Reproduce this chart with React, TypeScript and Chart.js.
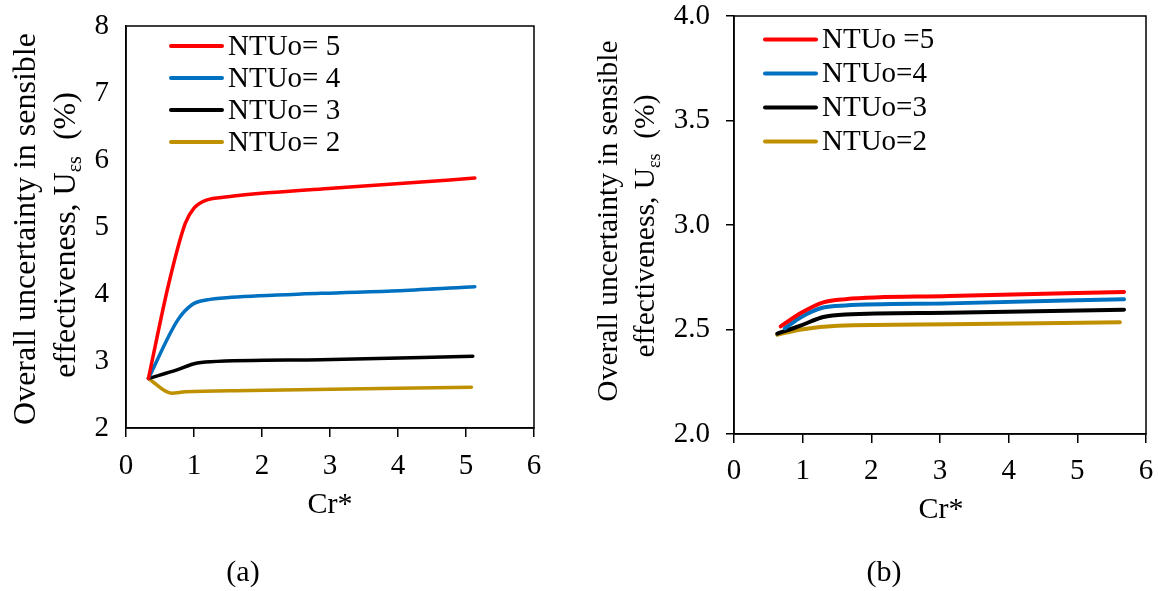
import React, { useEffect, useRef } from "react";
import { Chart, registerables } from "chart.js";

Chart.register(...registerables);

const FONT = "'Liberation Serif', 'Times New Roman', Times, serif";

// ---------- Panel (a) data ----------
const aLabels = ["NTUo= 5", "NTUo= 4", "NTUo= 3", "NTUo= 2"];
const aNtu5X = [0.33, 0.63, 0.87, 1.0, 1.18, 1.5, 2.08, 3.03, 4.03, 5.13];
const aNtu5Y = [2.74, 4.16, 5.05, 5.28, 5.4, 5.45, 5.51, 5.58, 5.65, 5.73];
const aNtu4X = [0.33, 0.76, 0.97, 1.18, 1.55, 2.87, 4.03, 5.13];
const aNtu4Y = [2.74, 3.61, 3.84, 3.91, 3.95, 4.01, 4.05, 4.11];
const aNtu3X = [0.33, 0.76, 1.0, 1.24, 2.87, 5.1];
const aNtu3Y = [2.74, 2.87, 2.96, 2.99, 3.02, 3.07];
const aNtu2X = [0.33, 0.67, 0.87, 1.82, 5.08];
const aNtu2Y = [2.74, 2.52, 2.54, 2.56, 2.61];
const aYTicks = [2, 3, 4, 5, 6, 7, 8];

// ---------- Panel (b) data ----------
const bLabels = ["NTUo =5", "NTUo=4", "NTUo=3", "NTUo=2"];
const bNtu5X = [0.68, 0.98, 1.3, 1.62, 3.13, 5.68];
const bNtu5Y = [2.515, 2.58, 2.63, 2.645, 2.66, 2.68];
const bNtu4X = [0.74, 0.98, 1.3, 1.62, 3.13, 5.68];
const bNtu4Y = [2.505, 2.56, 2.605, 2.615, 2.625, 2.645];
const bNtu3X = [0.63, 0.98, 1.3, 1.62, 3.13, 5.68];
const bNtu3Y = [2.48, 2.52, 2.56, 2.572, 2.58, 2.595];
const bNtu2X = [0.63, 0.98, 1.51, 3.13, 5.62];
const bNtu2Y = [2.475, 2.5, 2.518, 2.525, 2.535];
const bYTicks = [2.0, 2.5, 3.0, 3.5, 4.0];

const xTicks = [0, 1, 2, 3, 4, 5, 6];
const xTitle = "Cr*";
const yTitleLine1 = "Overall uncertainty in sensible";
const yTitleLine2Main = "effectiveness, U";
const yTitleLine2Sub = "εs";
const yTitleLine2End = "  (%)";

const COLORS = ["#FF0000", "#0070C0", "#000000", "#BF9000"];

function pairs(xs: number[], ys: number[]) {
  return xs.map((x, i) => ({ x, y: ys[i] }));
}

type PanelCfg = {
  labels: string[];
  series: { x: number[]; y: number[] }[];
  yMin: number;
  yMax: number;
  yTicks: number[];
  yDecimals: number;
  yTickMarks: boolean;
  yScaleWidth: number;
  xScaleHeight: number;
  padTop: number;
  padRight: number;
  tickFont: number;
  yTitleFont: number;
  yTitle1X: number;
  yTitle1Y: number;
  yTitle2X: number;
  yTitle2Y: number;
  xTitleX: number;
  xTitleY: number;
  legendLineX0: number;
  legendLineX1: number;
  legendTextX: number;
  legendY0: number;
  legendStep: number;
  legendFont: number;
  caption: string;
  captionX: number;
  captionY: number;
  xTickPad: number;
  yTickPad: number;
  lineWidth: number;
};

const decorPlugin = {
  id: "decor",
  afterDraw(chart: any, _args: any, opts: any) {
    const cfg: PanelCfg = opts.cfg;
    const ctx: CanvasRenderingContext2D = chart.ctx;
    const a = chart.chartArea;
    ctx.save();
    // frame
    ctx.strokeStyle = "#000";
    ctx.lineWidth = 1.5;
    ctx.strokeRect(a.left, a.top, a.right - a.left, a.bottom - a.top);

    // legend
    chart.data.datasets.forEach((ds: any, i: number) => {
      const y = cfg.legendY0 + i * cfg.legendStep;
      ctx.strokeStyle = ds.borderColor;
      ctx.lineWidth = 4;
      ctx.lineCap = "round";
      ctx.beginPath();
      ctx.moveTo(cfg.legendLineX0, y);
      ctx.lineTo(cfg.legendLineX1, y);
      ctx.stroke();
      ctx.fillStyle = "#000";
      ctx.font = `${cfg.legendFont}px ${FONT}`;
      ctx.textAlign = "left";
      ctx.textBaseline = "middle";
      ctx.fillText(ds.label, cfg.legendTextX, y + 1);
    });

    // x title
    ctx.fillStyle = "#000";
    ctx.font = `${cfg.tickFont + 1}px ${FONT}`;
    ctx.textAlign = "center";
    ctx.textBaseline = "middle";
    ctx.fillText(xTitle, cfg.xTitleX, cfg.xTitleY);

    // caption
    ctx.fillText(cfg.caption, cfg.captionX, cfg.captionY);

    // y title line 1
    const fs = cfg.yTitleFont;
    ctx.save();
    ctx.translate(cfg.yTitle1X, cfg.yTitle1Y);
    ctx.rotate(-Math.PI / 2);
    ctx.font = `${fs}px ${FONT}`;
    ctx.textAlign = "center";
    ctx.textBaseline = "middle";
    ctx.fillText(yTitleLine1, 0, 0);
    ctx.restore();

    // y title line 2 with subscript
    ctx.save();
    ctx.translate(cfg.yTitle2X, cfg.yTitle2Y);
    ctx.rotate(-Math.PI / 2);
    const subFs = Math.round(fs * 0.62);
    ctx.textAlign = "left";
    ctx.textBaseline = "alphabetic";
    ctx.font = `${fs}px ${FONT}`;
    const w1 = ctx.measureText(yTitleLine2Main).width;
    const w3 = ctx.measureText(yTitleLine2End).width;
    ctx.font = `${subFs}px ${FONT}`;
    const w2 = ctx.measureText(yTitleLine2Sub).width;
    const total = w1 + w2 + w3;
    let x = -total / 2;
    const base = fs * 0.33;
    ctx.font = `${fs}px ${FONT}`;
    ctx.fillText(yTitleLine2Main, x, base);
    x += w1;
    ctx.font = `${subFs}px ${FONT}`;
    ctx.fillText(yTitleLine2Sub, x, base + fs * 0.2);
    x += w2;
    ctx.font = `${fs}px ${FONT}`;
    ctx.fillText(yTitleLine2End, x, base);
    ctx.restore();

    ctx.restore();
  },
};

function buildConfig(cfg: PanelCfg): any {
  return {
    type: "line",
    data: {
      datasets: cfg.series.map((s, i) => ({
        label: cfg.labels[i],
        data: pairs(s.x, s.y),
        borderColor: COLORS[i],
        backgroundColor: COLORS[i],
        borderWidth: cfg.lineWidth,
        pointRadius: 0,
        fill: false,
        cubicInterpolationMode: "monotone",
        borderCapStyle: "round",
        borderJoinStyle: "round",
      })),
    },
    options: {
      responsive: false,
      animation: false,
      events: [],
      layout: {
        padding: { top: cfg.padTop, right: cfg.padRight, left: 0, bottom: 0 },
      },
      plugins: {
        legend: { display: false },
        tooltip: { enabled: false },
        title: { display: false },
        decor: { cfg },
      },
      scales: {
        x: {
          type: "linear",
          min: 0,
          max: 6,
          afterFit: (scale: any) => {
            scale.height = cfg.xScaleHeight;
            scale.paddingRight = 0;
            scale.paddingLeft = 0;
          },
          afterBuildTicks: (scale: any) => {
            scale.ticks = xTicks.map((v) => ({ value: v }));
          },
          ticks: {
            color: "#000",
            font: { family: FONT, size: cfg.tickFont },
            padding: cfg.xTickPad,
            maxRotation: 0,
            autoSkip: false,
            callback: (v: any) => String(v),
          },
          grid: {
            display: true,
            drawOnChartArea: false,
            drawTicks: true,
            tickLength: 9,
            color: "#000",
            lineWidth: 1.5,
          },
          border: { display: true, color: "#000", width: 1.5 },
          title: { display: false },
        },
        y: {
          type: "linear",
          min: cfg.yMin,
          max: cfg.yMax,
          afterFit: (scale: any) => {
            scale.width = cfg.yScaleWidth;
            scale.paddingTop = 0;
            scale.paddingBottom = 0;
          },
          afterBuildTicks: (scale: any) => {
            scale.ticks = cfg.yTicks.map((v) => ({ value: v }));
          },
          ticks: {
            color: "#000",
            font: { family: FONT, size: cfg.tickFont },
            padding: cfg.yTickPad,
            autoSkip: false,
            callback: (v: any) => Number(v).toFixed(cfg.yDecimals),
          },
          grid: {
            display: cfg.yTickMarks,
            drawOnChartArea: false,
            drawTicks: cfg.yTickMarks,
            tickLength: cfg.yTickMarks ? 8 : 0,
            color: "#000",
            lineWidth: 1.5,
          },
          border: { display: true, color: "#000", width: 1.5 },
          title: { display: false },
        },
      },
    },
    plugins: [decorPlugin],
  };
}

const panelA: PanelCfg = {
  labels: aLabels,
  series: [
    { x: aNtu5X, y: aNtu5Y },
    { x: aNtu4X, y: aNtu4Y },
    { x: aNtu3X, y: aNtu3Y },
    { x: aNtu2X, y: aNtu2Y },
  ],
  yMin: 2,
  yMax: 8,
  yTicks: aYTicks,
  yDecimals: 0,
  yTickMarks: false,
  yScaleWidth: 126,
  xScaleHeight: 163,
  padTop: 26,
  padRight: 46,
  tickFont: 29,
  yTitleFont: 32,
  yTitle1X: 27,
  yTitle1Y: 229,
  yTitle2X: 64,
  yTitle2Y: 235,
  xTitleX: 330,
  xTitleY: 505,
  legendLineX0: 171,
  legendLineX1: 222,
  legendTextX: 228,
  legendY0: 46,
  legendStep: 32,
  legendFont: 29,
  caption: "(a)",
  captionX: 243,
  captionY: 573,
  xTickPad: 12,
  yTickPad: 17,
  lineWidth: 3.5,
};

const panelB: PanelCfg = {
  labels: bLabels,
  series: [
    { x: bNtu5X, y: bNtu5Y },
    { x: bNtu4X, y: bNtu4Y },
    { x: bNtu3X, y: bNtu3Y },
    { x: bNtu2X, y: bNtu2Y },
  ],
  yMin: 2,
  yMax: 4,
  yTicks: bYTicks,
  yDecimals: 1,
  yTickMarks: true,
  yScaleWidth: 154,
  xScaleHeight: 157,
  padTop: 16,
  padRight: 12,
  tickFont: 29,
  yTitleFont: 29.5,
  yTitle1X: 29,
  yTitle1Y: 221,
  yTitle2X: 64,
  yTitle2Y: 226,
  xTitleX: 361,
  xTitleY: 510,
  legendLineX0: 185,
  legendLineX1: 236,
  legendTextX: 242,
  legendY0: 39.5,
  legendStep: 34,
  legendFont: 29,
  caption: "(b)",
  captionX: 304,
  captionY: 573,
  xTickPad: 11,
  yTickPad: 16,
  lineWidth: 4,
};

function Panel({ cfg, left, width }: { cfg: PanelCfg; left: number; width: number }) {
  const ref = useRef<HTMLCanvasElement | null>(null);
  useEffect(() => {
    if (!ref.current) return;
    const chart = new Chart(ref.current, buildConfig(cfg));
    return () => chart.destroy();
  }, [cfg]);
  return (
    <div style={{ position: "absolute", left, top: 0, width, height: 591 }}>
      <canvas ref={ref} width={width} height={591} style={{ display: "block" }} />
    </div>
  );
}

export default function App() {
  return (
    <div
      style={{
        position: "absolute",
        left: 0,
        top: 0,
        width: 1158,
        height: 591,
        background: "#fff",
        overflow: "hidden",
      }}
    >
      <Panel cfg={panelA} left={0} width={580} />
      <Panel cfg={panelB} left={580} width={578} />
    </div>
  );
}
